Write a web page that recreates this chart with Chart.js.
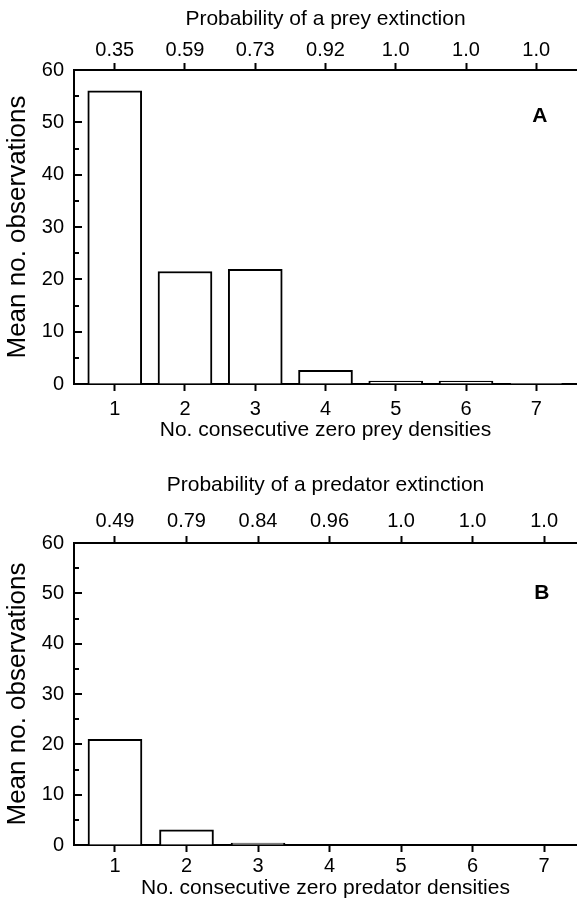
<!DOCTYPE html>
<html>
<head>
<meta charset="utf-8">
<script src="https://cdn.jsdelivr.net/npm/chart.js@4.4.1/dist/chart.umd.min.js"></script>
<style>
  html, body { margin: 0; padding: 0; background: #fff; }
  #wrap { position: relative; width: 577px; height: 901px; }
  canvas { position: absolute; left: 0; }
</style>
</head>
<body>
<div id="wrap">
  <canvas id="chartA" width="577" height="450" style="top:0"></canvas>
  <canvas id="chartB" width="577" height="451" style="top:450px"></canvas>
</div>
<script>
// number of consecutive zero densities
const counts = [1, 2, 3, 4, 5, 6, 7];

// panel A: prey
const preyMeans = [56, 21.5, 21.9, 2.6, 0.55, 0.55, 0.15];
const preyProb = ['0.35', '0.59', '0.73', '0.92', '1.0', '1.0', '1.0'];

// panel B: predator
const predMeans = [21, 3, 0.4, 0, 0, 0, 0];
const predProb = ['0.49', '0.79', '0.84', '0.96', '1.0', '1.0', '1.0'];

const yTicks = [0, 10, 20, 30, 40, 50, 60];
const yMinor = [5, 15, 25, 35, 45, 55];

const FONT = 'Liberation Sans, Arial, Helvetica, sans-serif';
const ink = '#000';

// y-axis ticks in this figure point into the plot
const innerTicks = {
  id: 'innerTicks',
  afterDraw(chart, args, opts) {
    const { ctx, chartArea } = chart;
    const y = chart.scales.y;
    ctx.save();
    ctx.strokeStyle = ink;
    ctx.lineWidth = 2;
    yTicks.concat(yMinor).forEach((v) => {
      if (v === 0 || v === 60) return;
      const py = Math.round(y.getPixelForValue(v));
      const len = v % 10 === 0 ? 8 : 5;
      ctx.beginPath();
      ctx.moveTo(chartArea.left, py);
      ctx.lineTo(chartArea.left + len, py);
      ctx.stroke();
    });
    // panel letter
    ctx.fillStyle = ink;
    ctx.font = 'bold 21px ' + FONT;
    ctx.textAlign = 'center';
    ctx.textBaseline = 'middle';
    ctx.fillText(opts.letter, chart.scales.x.getPixelForValue(opts.lx), y.getPixelForValue(opts.ly));
    ctx.restore();
  }
};

function makePanel(id, means, probs, topTitle, bottomTitle, p) {
  const ctx = document.getElementById(id).getContext('2d');
  const data = counts.map((c, i) => ({ x: c, y: means[i] }));

  const xAxis = (pos) => ({
    type: 'linear',
    position: pos,
    min: p.xmin,
    max: p.xmax,
    offset: false,
    afterBuildTicks: (s) => { s.ticks = counts.map((v) => ({ value: v })); },
    afterFit: (s) => { s.height = pos === 'top' ? p.topH : p.botH; },
    grid: { offset: false, drawOnChartArea: false, drawTicks: true, tickLength: 7, tickWidth: 2, tickColor: ink },
    border: { display: true, color: ink, width: 2 },
    ticks: {
      autoSkip: false,
      maxRotation: 0,
      color: ink,
      padding: pos === 'top' ? p.topPad : p.botPad,
      font: { family: FONT, size: 20 },
      callback: (v) => {
        const i = counts.indexOf(v);
        if (i < 0) return '';
        return pos === 'top' ? probs[i] : String(counts[i]);
      }
    },
    title: {
      display: true,
      text: pos === 'top' ? topTitle : bottomTitle,
      color: ink,
      font: { family: FONT, size: 21 },
      padding: pos === 'top' ? { top: p.ttPad, bottom: 0 } : { top: 0, bottom: p.btPad }
    }
  });

  return new Chart(ctx, {
    type: 'bar',
    data: {
      datasets: [{
        data: data,
        backgroundColor: '#fff',
        borderColor: ink,
        borderWidth: 2,
        borderSkipped: 'start',
        barThickness: 54
      }]
    },
    options: {
      responsive: false,
      animation: false,
      layout: { padding: 0 },
      plugins: {
        legend: { display: false },
        tooltip: { enabled: false },
        innerTicks: { letter: p.letter, lx: p.lx, ly: p.ly }
      },
      scales: {
        x: xAxis('bottom'),
        x2: xAxis('top'),
        y: {
          min: 0,
          max: 60,
          afterBuildTicks: (s) => { s.ticks = yTicks.map((v) => ({ value: v })); },
          afterFit: (s) => { s.width = 74; },
          grid: { drawOnChartArea: false, drawTicks: false },
          border: { display: true, color: ink, width: 2 },
          ticks: { color: ink, padding: 10, font: { family: FONT, size: 20 } },
          title: {
            display: true,
            text: 'Mean no. observations',
            color: ink,
            font: { family: FONT, size: 26 },
            padding: { top: 2, bottom: 0 }
          }
        }
      }
    },
    plugins: [innerTicks]
  });
}

makePanel('chartA', preyMeans, preyProb,
  'Probability of a prey extinction', 'No. consecutive zero prey densities',
  { xmin: 0.42, xmax: 7.58, topH: 70, botH: 66, topPad: 1, botPad: 6, ttPad: 7, btPad: 7, letter: 'A', lx: 7.05, ly: 51.2 });

makePanel('chartB', predMeans, predProb,
  'Probability of a predator extinction', 'No. consecutive zero predator densities',
  { xmin: 0.427, xmax: 7.46, topH: 93, botH: 56, topPad: 3, botPad: 2, ttPad: 23, btPad: 0, letter: 'B', lx: 6.97, ly: 50 });
</script>
</body>
</html>
